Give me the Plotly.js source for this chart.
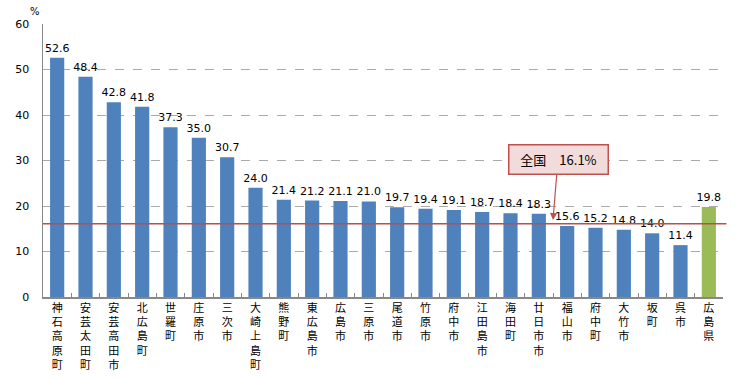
<!DOCTYPE html>
<html><head><meta charset="utf-8">
<script src="https://cdn.plot.ly/plotly-3.0.1.min.js"></script>
<style>body{margin:0;background:#fff}#c{width:756px;height:379px}</style>
</head><body><div id="c"></div>
<script>
const categories = ["神石高原町","安芸太田町","安芸高田市","北広島町","世羅町","庄原市","三次市","大崎上島町","熊野町","東広島市","広島市","三原市","尾道市","竹原市","府中市","江田島市","海田町","廿日市市","福山市","府中町","大竹市","坂町","呉市","広島県"];
const values = [52.6,48.4,42.8,41.8,37.3,35.0,30.7,24.0,21.4,21.2,21.1,21.0,19.7,19.4,19.1,18.7,18.4,18.3,15.6,15.2,14.8,14.0,11.4,19.8];
const nationalValue = 16.1;
const nationalLabel = "全国　16.1%";
const yTicks = [0,10,20,30,40,50,60];

const font = "'Noto Sans CJK JP', 'Noto Sans', sans-serif";
const tickFontFamily = "'DejaVu Sans', 'Noto Sans CJK JP', sans-serif";
const colors = categories.map(c => c === "広島県" ? "#9bbb59" : "#4f81bd");
const tickText = categories.map(c => c.split("").join("<br>"));

const trace = {
  type: "bar", x: categories, y: values,
  marker: {color: colors},
  text: values.map(v => v.toFixed(1)), textposition: "outside",
  constraintext: "none",
  textfont: {family: "'DejaVu Sans', sans-serif", size: 11, color: "#000"},
  cliponaxis: false, hoverinfo: "none"
};
const layout = {
  width: 756, height: 379,
  margin: {l: 43, r: 33, t: 24, b: 82},
  paper_bgcolor: "#fff", plot_bgcolor: "#fff",
  showlegend: false, bargap: 0.5,
  font: {family: font, size: 12, color: "#000"},
  xaxis: {
    type: "category", tickmode: "array", tickvals: categories, ticktext: tickText,
    showline: true, linecolor: "#888", linewidth: 1.5, tickangle: 0,
    ticks: "inside", tickson: "boundaries", ticklen: 4, tickcolor: "#888", tickwidth: 1,
    tickfont: {family: tickFontFamily, size: 11, color: "#000"}, showgrid: false
  },
  yaxis: {
    range: [0, 60], tickvals: yTicks, ticktext: yTicks.map(String),
    showline: true, linecolor: "#888", linewidth: 1.5,
    gridcolor: "#aaa", griddash: "dash", gridwidth: 1, zeroline: false,
    tickfont: {family: "'DejaVu Sans', sans-serif", size: 11, color: "#000"},
    ticks: "", ticklabelstandoff: 10
  },
  shapes: [{
    type: "line", xref: "paper", yref: "y", x0: 0, x1: 1.005, y0: nationalValue, y1: nationalValue,
    line: {color: "#b5504d", width: 1.5}
  }],
  annotations: [
    {xref: "paper", yref: "paper", x: -0.012, y: 1.045, text: "%", showarrow: false,
     xanchor: "center", yanchor: "middle", font: {family: "'DejaVu Sans', sans-serif", size: 10, color: "#000"}},
    {x: 17.5, y: 16.9, xref: "x", yref: "y", text: nationalLabel, showarrow: true,
     ax: 5, ay: -61, arrowhead: 2, arrowsize: 1.2, arrowwidth: 1.2, arrowcolor: "#c0504d",
     bgcolor: "#f2dcdb", bordercolor: "#c0504d", borderwidth: 1.5, borderpad: 5,
     font: {family: font, size: 13, color: "#000"}, width: 88, height: 18}
  ]
};
Plotly.newPlot("c", [trace], layout, {displayModeBar: false, staticPlot: true});
</script></body></html>
